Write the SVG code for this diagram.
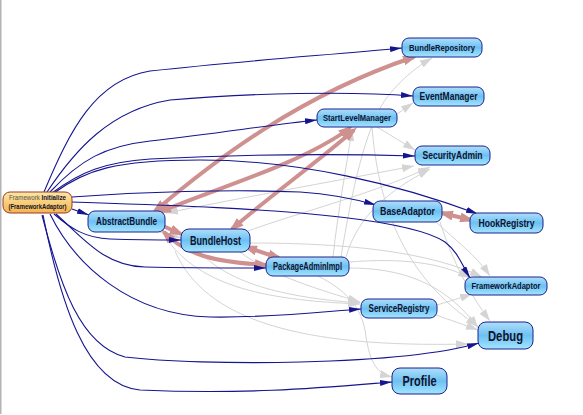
<svg xmlns="http://www.w3.org/2000/svg" width="583" height="415" viewBox="0 0 583 415">
<style>
.n{stroke:#1a2390;stroke-width:1;fill:url(#gb)}
.o{stroke:#9b3a2a;stroke-width:1;fill:url(#go)}
.t{font-family:"Liberation Sans",Arial,sans-serif;font-weight:bold;fill:#10122e;text-anchor:middle}
.e{fill:none;stroke:#15158f;stroke-width:1.1}
.p{fill:none;stroke:#cf9090;stroke-width:4}
.g{fill:none;stroke:#d4d4d4;stroke-width:1}
</style>
<defs>
<linearGradient id="gb" x1="0" y1="0" x2="0" y2="1">
<stop offset="0" stop-color="#b0defa"/>
<stop offset="0.5" stop-color="#6cc1f2"/>
<stop offset="1" stop-color="#a4e5ff"/>
</linearGradient>
<linearGradient id="go" x1="0" y1="0" x2="0" y2="1">
<stop offset="0" stop-color="#fde7a6"/>
<stop offset="1" stop-color="#f4b44c"/>
</linearGradient>
<marker id="an" markerUnits="userSpaceOnUse" markerWidth="12" markerHeight="6" refX="12" refY="3" orient="auto"><path d="M0,0L12,3L0,6z" fill="#15158f"/></marker>
<marker id="ap" markerUnits="userSpaceOnUse" markerWidth="15" markerHeight="10" refX="11" refY="5" orient="auto-start-reverse"><path d="M0,0L15,5L0,10z" fill="#cf9090"/></marker>
<marker id="ag" markerUnits="userSpaceOnUse" markerWidth="12" markerHeight="8" refX="12" refY="4" orient="auto-start-reverse"><path d="M0,0L12,4L0,8z" fill="#d4d4d4"/></marker>
</defs>
<rect x="0" y="0" width="1.5" height="414" fill="#b4b4b4"/>
<g id="connectors">
<g id="gray-edges">
<path class="g" marker-end="url(#ag)" d="M333,257 C338,210 346,170 352,129"/>
<path class="g" marker-end="url(#ag)" d="M341,257 C352,190 365,130 385,100 C400,80 415,68 432,58"/>
<path class="g" marker-end="url(#ag)" d="M397,114 C403,110 407,107 413,103"/>
<path class="g" marker-end="url(#ag)" d="M377,127 C390,135 402,142 415,150"/>
<path class="g" marker-start="url(#ag)" marker-end="url(#ag)" d="M166,213 C250,196 330,182 414,166"/>
<path class="g" marker-end="url(#ag)" d="M248,231 C300,212 370,195 430,167"/>
<path class="g" marker-end="url(#ag)" d="M346,257 C358,215 390,190 430,169"/>
<path class="g" marker-end="url(#ag)" d="M436,222 C455,240 476,255 490,276"/>
<path class="g" marker-end="url(#ag)" d="M440,222 C452,260 470,295 490,321"/>
<path class="g" marker-end="url(#ag)" d="M250,243 C350,243 430,252 482,277"/>
<path class="g" marker-end="url(#ag)" d="M349,262 C400,258 440,262 470,278"/>
<path class="g" marker-end="url(#ag)" d="M349,268 C400,268 445,282 478,328"/>
<path class="g" marker-end="url(#ag)" d="M437,305 C450,301 460,298 472,294"/>
<path class="g" marker-end="url(#ag)" d="M436,315 C450,320 462,324 478,330"/>
<path class="g" marker-end="url(#ag)" d="M175,251 C205,320 300,348 468,344"/>
<path class="g" marker-end="url(#ag)" d="M318,276 C345,290 360,305 365,330 C369,360 375,373 392,377"/>
<path class="g" marker-end="url(#ag)" d="M162,232 C195,285 260,300 360,304"/>
<path class="g" marker-end="url(#ag)" d="M200,252 C230,285 290,298 360,303"/>
<path class="g" marker-end="url(#ag)" d="M240,252 C270,275 320,290 360,302"/>
<path class="g" marker-end="url(#ag)" d="M372,127 C378,200 400,275 478,326"/>
<path class="g" marker-end="url(#ag)" d="M160,232 L181,238"/>
</g>
<g id="pink-edges">
<path class="p" marker-start="url(#ap)" marker-end="url(#ap)" d="M155,211 C215,160 300,95 414,57"/>
<path class="p" marker-start="url(#ap)" marker-end="url(#ap)" d="M160,212 C210,190 300,165 350,128"/>
<path class="p" marker-start="url(#ap)" marker-end="url(#ap)" d="M232,229 C265,200 320,160 354,130"/>
<path class="p" marker-end="url(#ap)" d="M163,226 L181,234"/>
<path class="p" marker-start="url(#ap)" marker-end="url(#ap)" d="M246,247 L279,258"/>
<path class="p" marker-start="url(#ap)" marker-end="url(#ap)" d="M164,232 C185,255 215,262 266,265"/>
<path class="p" marker-start="url(#ap)" marker-end="url(#ap)" d="M442,213 L471,220"/>
</g>
<g id="init-edges">
<path class="e" marker-end="url(#an)" d="M44,192 C70,130 95,80 150,71 C250,60 330,55 402,48"/>
<path class="e" marker-end="url(#an)" d="M47,192 C75,150 110,110 170,100 C250,93 350,91 413,96"/>
<path class="e" marker-end="url(#an)" d="M50,192 C80,160 105,146 150,141 C220,133 270,125 317,120"/>
<path class="e" marker-end="url(#an)" d="M52,193 C80,172 105,162 150,159 C250,154 350,154 415,156"/>
<path class="e" marker-end="url(#an)" d="M54,193 C85,170 115,160 200,160 C300,160 400,185 478,214"/>
<path class="e" marker-end="url(#an)" d="M72,197 C140,192 230,189 300,192 C330,194 355,199 376,205"/>
<path class="e" marker-end="url(#an)" d="M72,202 C160,205 260,208 340,217 C400,224 430,232 445,242 C458,252 462,265 470,278"/>
<path class="e" marker-end="url(#an)" d="M72,209 L89,215"/>
<path class="e" marker-end="url(#an)" d="M54,214 C70,228 85,238 110,239 C140,240 160,240 181,240"/>
<path class="e" marker-end="url(#an)" d="M56,214 C85,240 105,266 145,267 C190,268 230,268 266,268"/>
<path class="e" marker-end="url(#an)" d="M50,214 C75,265 130,315 210,317 C270,318 320,312 361,309"/>
<path class="e" marker-end="url(#an)" d="M42,215 C60,285 80,345 125,357 C200,366 400,366 479,343"/>
<path class="e" marker-end="url(#an)" d="M43,215 C60,300 85,385 140,390 C250,395 330,387 392,382"/>
</g>
</g>
<g id="FrameworkInitialize">
<rect class="o" x="3" y="192" width="69" height="21" rx="7"/>
<text class="t" x="37.5" y="199.6" font-size="6.6" textLength="57" lengthAdjust="spacingAndGlyphs"><tspan font-weight="normal" fill="#555">Framework </tspan>Initialize</text>
<text class="t" x="37.5" y="208.8" font-size="6.6" textLength="58" lengthAdjust="spacingAndGlyphs">(FrameworkAdaptor)</text>
</g>
<g id="AbstractBundle"><rect class="n" x="88" y="211" width="77" height="21" rx="7"/><text class="t" x="126.5" y="225.2" font-size="10.5" textLength="61" lengthAdjust="spacingAndGlyphs">AbstractBundle</text></g>
<g id="BundleHost"><rect class="n" x="181" y="229" width="69" height="23" rx="8"/><text class="t" x="215.5" y="244.7" font-size="12.5" textLength="51" lengthAdjust="spacingAndGlyphs">BundleHost</text></g>
<g id="PackageAdminImpl"><rect class="n" x="266" y="257" width="83" height="19" rx="7"/><text class="t" x="307.5" y="270" font-size="10" textLength="69" lengthAdjust="spacingAndGlyphs">PackageAdminImpl</text></g>
<g id="BundleRepository"><rect class="n" x="402" y="38" width="80" height="19" rx="7"/><text class="t" x="442" y="51" font-size="9.3" textLength="66" lengthAdjust="spacingAndGlyphs">BundleRepository</text></g>
<g id="EventManager"><rect class="n" x="413" y="87" width="71" height="19" rx="7"/><text class="t" x="448.5" y="100" font-size="10" textLength="58" lengthAdjust="spacingAndGlyphs">EventManager</text></g>
<g id="StartLevelManager"><rect class="n" x="317" y="109" width="80" height="18" rx="7"/><text class="t" x="357" y="121.3" font-size="9.3" textLength="68" lengthAdjust="spacingAndGlyphs">StartLevelManager</text></g>
<g id="SecurityAdmin"><rect class="n" x="415" y="146" width="75" height="19" rx="7"/><text class="t" x="452.5" y="159" font-size="10" textLength="60" lengthAdjust="spacingAndGlyphs">SecurityAdmin</text></g>
<g id="BaseAdaptor"><rect class="n" x="373" y="201" width="69" height="21" rx="7"/><text class="t" x="407.5" y="215.2" font-size="10.5" textLength="55" lengthAdjust="spacingAndGlyphs">BaseAdaptor</text></g>
<g id="HookRegistry"><rect class="n" x="470" y="213" width="73" height="20" rx="7"/><text class="t" x="506.5" y="226.9" font-size="11" textLength="56" lengthAdjust="spacingAndGlyphs">HookRegistry</text></g>
<g id="FrameworkAdaptor"><rect class="n" x="465" y="277" width="82" height="18" rx="7"/><text class="t" x="506" y="289.3" font-size="9.3" textLength="69" lengthAdjust="spacingAndGlyphs">FrameworkAdaptor</text></g>
<g id="ServiceRegistry"><rect class="n" x="361" y="299" width="76" height="19" rx="7"/><text class="t" x="399" y="312" font-size="10" textLength="61" lengthAdjust="spacingAndGlyphs">ServiceRegistry</text></g>
<g id="Debug"><rect class="n" x="478" y="322" width="55" height="27" rx="8"/><text class="t" x="505.5" y="340.6" font-size="14.5" textLength="35" lengthAdjust="spacingAndGlyphs">Debug</text></g>
<g id="Profile"><rect class="n" x="392" y="368" width="55" height="26" rx="8"/><text class="t" x="419.5" y="386" font-size="14" textLength="34" lengthAdjust="spacingAndGlyphs">Profile</text></g>
</svg>
